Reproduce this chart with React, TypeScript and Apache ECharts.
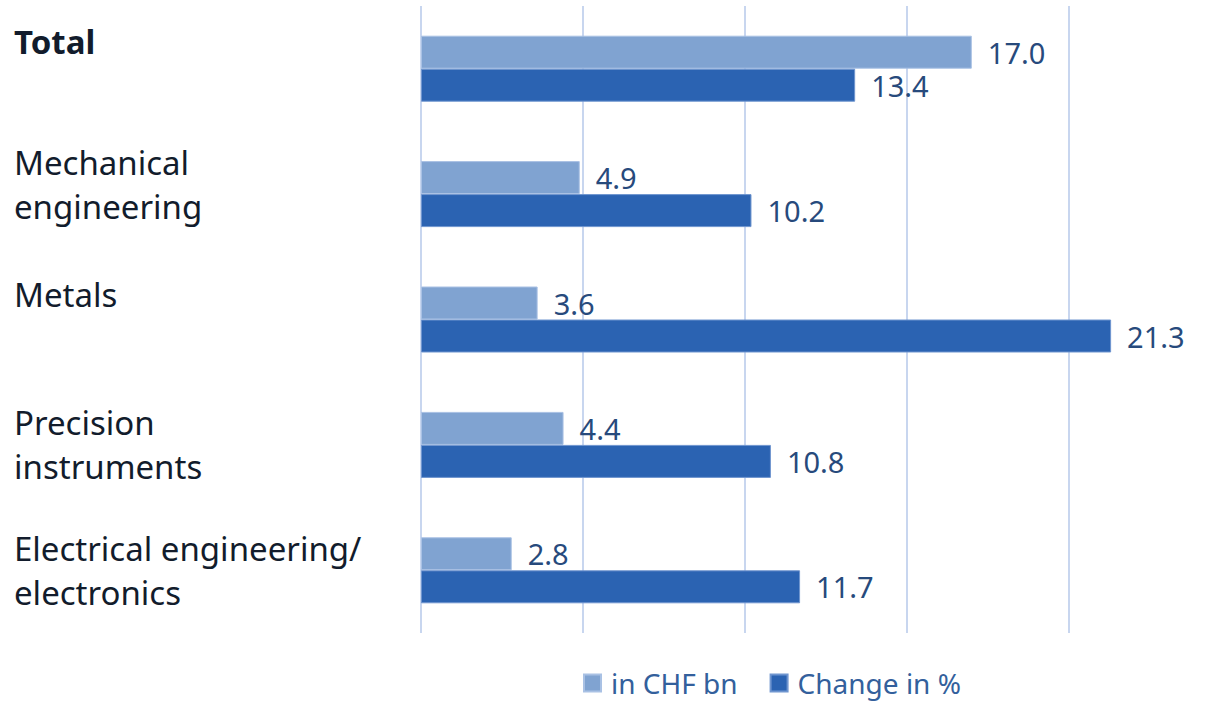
import React, { useEffect, useRef } from "react";
import * as echarts from "echarts";

const categories = [
  "Total",
  "Mechanical\nengineering",
  "Metals",
  "Precision\ninstruments",
  "Electrical engineering/\nelectronics",
];
const seriesNames = ["in CHF bn", "Change in %"];
const valuesCHF = [17.0, 4.9, 3.6, 4.4, 2.8];
const valuesChange = [13.4, 10.2, 21.3, 10.8, 11.7];
const xTicks = [0, 5, 10, 15, 20];

// label vertical nudges (layout only)
const labelSpacer = [54, 20, 50, 0, 0];

const FONT = "'Noto Sans', 'Open Sans', sans-serif";

export default function App() {
  const ref = useRef<HTMLDivElement>(null);
  useEffect(() => {
    if (!ref.current) return;
    const chart = echarts.init(ref.current, null, { renderer: "svg" });
    const rich: any = {
      n: { fontSize: 33, lineHeight: 44, color: "#121c2c", fontFamily: FONT },
      b: { fontSize: 33, lineHeight: 44, color: "#121c2c", fontFamily: FONT, fontWeight: "bold" },
    };
    labelSpacer.forEach((h) => {
      if (h > 0) rich["s" + h] = { fontSize: 1, lineHeight: h, fontFamily: FONT };
    });
    const gridColor = "#c8d6ef";
    const splitColors = xTicks.map(() => gridColor).concat(["rgba(0,0,0,0)"]);
    const valueLabel = {
      show: true,
      position: "right",
      distance: 16,
      fontSize: 29,
      color: "#274a7c",
      fontFamily: FONT,
      formatter: (p: any) => p.value.toFixed(1),
    };
    chart.setOption({
      animation: false,
      grid: { left: 421, top: 6, bottom: 69, right: 1220 - 421 - 24 * 32.4 },
      legend: {
        left: 583,
        top: 668,
        itemWidth: 17,
        itemHeight: 17,
        itemGap: 32,
        icon: "rect",
        padding: 0,
        textStyle: {
          fontSize: 28,
          lineHeight: 30,
          color: "#33609c",
          fontFamily: FONT,
          padding: [0, 0, 0, 5],
        },
        data: seriesNames,
      },
      xAxis: {
        type: "value",
        min: 0,
        max: 24,
        interval: 5,
        axisLabel: { show: false },
        axisLine: { show: false },
        axisTick: { show: false },
        splitLine: { show: true, lineStyle: { color: splitColors, width: 2 } },
      },
      yAxis: {
        type: "category",
        inverse: true,
        data: categories,
        axisLine: { show: false },
        axisTick: { show: false },
        axisLabel: {
          interval: 0,
          align: "left",
          margin: 407,
          formatter: (value: string, idx: number) => {
            const key = idx === 0 ? "b" : "n";
            let s = value
              .split("\n")
              .map((l) => `{${key}|${l}}`)
              .join("\n");
            const h = labelSpacer[idx];
            if (h > 0) s += `\n{s${h}| }`;
            return s;
          },
          rich,
        },
      },
      series: [
        {
          name: seriesNames[0],
          type: "bar",
          data: valuesCHF,
          barWidth: 33,
          barGap: "0%",
          itemStyle: { color: "#80a3d1", borderColor: "#a9c1e4", borderWidth: 1 },
          label: valueLabel,
        },
        {
          name: seriesNames[1],
          type: "bar",
          data: valuesChange,
          barWidth: 33,
          barGap: "0%",
          itemStyle: { color: "#2b63b2", borderColor: "#6f95cf", borderWidth: 1 },
          label: valueLabel,
        },
      ],
    });
    return () => chart.dispose();
  }, []);
  return (
    <div
      ref={ref}
      style={{ position: "fixed", left: 0, top: 0, width: 1220, height: 702, background: "#fff" }}
    />
  );
}
